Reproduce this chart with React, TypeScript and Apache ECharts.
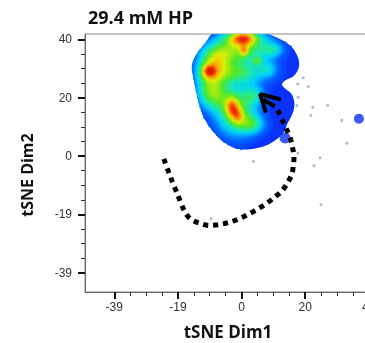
import React, { useEffect, useRef } from 'react';
import * as echarts from 'echarts';

const chartTitle = '29.4 mM HP';
const xName = 'tSNE Dim1';
const yName = 'tSNE Dim2';
const xTickValues = [-40, -20, 0, 20, 40];
const xTickLabels = ['-39', '-19', '0', '20', '40'];
const yTickValues = [-40, -20, 0, 20, 40];
const yTickLabels = ['-39', '-19', '0', '20', '40'];
const minorTickValues = [-35, -30, -25, -15, -10, -5, 5, 10, 15, 25, 30, 35];

// outline of the main density cloud [x, y]
const cloudOutline = [
  [-9.3, 41.6], [8.3, 41.6], [10.9, 40.6], [13.4, 39.2], [15.9, 37.2], [17.5, 34.4],
  [18.1, 32.0], [17.8, 29.6], [16.2, 27.2], [13.7, 25.9], [12.7, 24.5], [13.7, 23.1],
  [15.6, 21.4], [16.5, 19.0], [16.5, 16.3], [15.6, 13.5], [14.3, 10.8], [13.7, 8.7],
  [12.4, 7.0], [10.5, 5.3], [7.7, 3.6], [4.3, 2.6], [0.5, 2.2], [-2.4, 2.9],
  [-5.2, 4.6], [-7.7, 7.0], [-9.9, 9.8], [-11.8, 13.2], [-13.1, 17.0], [-14.0, 20.7],
  [-14.6, 24.1], [-15.3, 27.6], [-15.6, 30.7], [-14.9, 33.4], [-13.4, 36.1], [-11.5, 38.5],
  [-10.2, 40.6],
];

// density hotspots inside the cloud [x, y, spreadX, spreadY, weight]
const hotspots = [
  [0.5, 38, 6, 4.5, 0.6],
  [0.5, 40.5, 3, 1.6, 0.55],
  [0.8, 36.3, 0.9, 1.4, 0.3],
  [-8, 34, 4, 3.5, 0.5],
  [5, 32.8, 1.1, 1.1, 0.25],
  [-1, 28.5, 7, 2.8, 0.4],
  [-10.2, 29.2, 1.4, 1.4, 0.35],
  [-10, 29, 3, 3, 0.35],
  [-9.5, 22, 3.5, 4, 0.55],
  [-3, 17, 1.4, 2.4, 0.38],
  [-1.2, 14, 1.3, 2, 0.28],
  [-2, 15.5, 4.5, 6, 0.6],
  [3.5, 11, 3, 2.5, 0.35],
  [4, 21, 2.5, 2.5, 0.3],
  [10, 36.5, 2.5, 2, 0.28],
  [8.5, 30, 2, 2, 0.2],
];

// small separate clusters [x, y, size]
const satelliteBlobs = [
  [13.7, 6.2, 11],
  [36.9, 12.8, 10],
];

// isolated cells
const specks = [
  [17.7, 24.7], [19.4, 26.8], [21.0, 23.8], [17.8, 20.1], [17.4, 17.3], [22.4, 16.7],
  [27.1, 17.3], [21.8, 13.9], [31.5, 12.2], [33.1, 4.4], [17.7, 1.0], [24.7, -0.6],
  [22.8, -3.3], [3.7, -1.9], [25.0, -16.6], [-9.6, -21.5],
];

// dotted trajectory
const trajectory = [
  [-24.4, -1.0], [-22.3, -7.3], [-20.2, -12.9], [-18.0, -18.7], [-16.2, -21.5], [-13.3, -23.0],
  [-10.1, -23.8], [-7.0, -23.5], [-3.8, -22.7], [-0.7, -21.5], [2.1, -20.0], [5.0, -18.2],
  [7.7, -16.4], [10.2, -14.3], [12.6, -12.1], [14.4, -9.3], [15.8, -6.3], [16.3, -3.3],
  [16.5, -0.2], [16.0, 3.0], [15.3, 6.2], [14.2, 9.0], [13.1, 11.6], [11.9, 14.5], [11.0, 16.3],
];
const arrowHead = [[12.4, 19.35], [5.8, 21.2], [7.7, 14.9]];
const arrowShaft = [[10.5, 16.95], [6.8, 19.35]];

const CELL = 0.4;
const BASE_BLUE = 'rgb(10,50,250)';
const HEAT_STOPS: [number, number[]][] = [
  [0, [10, 50, 250]],
  [0.15, [0, 100, 255]],
  [0.32, [0, 210, 255]],
  [0.45, [30, 235, 170]],
  [0.58, [80, 235, 40]],
  [0.75, [230, 240, 0]],
  [0.9, [255, 150, 0]],
  [1.05, [240, 40, 0]],
  [1.3, [200, 0, 0]],
];

function heatColor(v: number) {
  if (v <= HEAT_STOPS[0][0]) return `rgb(${HEAT_STOPS[0][1].join(',')})`;
  for (let i = 1; i < HEAT_STOPS.length; i++) {
    const [v1, c1] = HEAT_STOPS[i];
    const [v0, c0] = HEAT_STOPS[i - 1];
    if (v <= v1) {
      const t = (v - v0) / (v1 - v0);
      const c = c0.map((a, k) => Math.round(a + (c1[k] - a) * t));
      return `rgb(${c.join(',')})`;
    }
  }
  return `rgb(${HEAT_STOPS[HEAT_STOPS.length - 1][1].join(',')})`;
}

function inside(px: number, py: number, poly: number[][]) {
  let c = false;
  for (let i = 0, j = poly.length - 1; i < poly.length; j = i++) {
    const [xi, yi] = poly[i];
    const [xj, yj] = poly[j];
    if ((yi > py) !== (yj > py) && px < ((xj - xi) * (py - yi)) / (yj - yi) + xi) c = !c;
  }
  return c;
}

function buildHeatCells() {
  const xs = cloudOutline.map((p) => p[0]);
  const ys = cloudOutline.map((p) => p[1]);
  const x0 = Math.min(...xs), x1 = Math.max(...xs);
  const y0 = Math.min(...ys), y1 = Math.max(...ys);
  const cells: number[][] = [];
  for (let x = x0 + CELL / 2; x < x1; x += CELL) {
    for (let y = y0 + CELL / 2; y < y1; y += CELL) {
      if (!inside(x, y, cloudOutline)) continue;
      let h = 0;
      for (const [hx, hy, sx, sy, w] of hotspots) {
        const dx = (x - hx) / sx;
        const dy = (y - hy) / sy;
        h += w * Math.exp(-0.5 * (dx * dx + dy * dy));
      }
      if (h > 0.05) cells.push([x, y, h]);
    }
  }
  return cells;
}

export default function App() {
  const ref = useRef<HTMLDivElement>(null);
  useEffect(() => {
    if (!ref.current) return;
    const chart = echarts.init(ref.current, undefined, { renderer: 'svg' });
    const heatCells = buildHeatCells();
    const tickFont = { fontFamily: 'Liberation Sans', fontSize: 12, color: '#333' };
    const nameFont = { fontFamily: 'Open Sans', fontWeight: 'bold', fontSize: 17, color: '#111' };
    const xMin = -49.2, xMax = 40.7, yMin = -46.6, yMax = 41.8;
    chart.setOption({
      animation: false,
      title: {
        text: chartTitle,
        left: 83,
        top: 3,
        textStyle: { fontFamily: 'Open Sans', fontWeight: 'bold', fontSize: 18, color: '#111' },
      },
      grid: {
        left: 85, top: 34, right: -6, bottom: 51, show: true, borderColor: '#8a8a8a', borderWidth: 1,
        containLabel: false, outerBoundsMode: 'none',
      },
      xAxis: [
        {
          type: 'value', min: xMin, max: xMax, position: 'bottom',
          name: xName, nameLocation: 'middle', nameGap: 31, nameTextStyle: { ...nameFont },
          axisLine: { show: true, onZero: false, lineStyle: { color: '#666', width: 1 } },
          axisTick: { show: true, customValues: xTickValues, length: 7, lineStyle: { color: '#111', width: 2 } },
          axisLabel: {
            customValues: xTickValues, margin: 9, ...tickFont,
            formatter: (v: number) => { const i = xTickValues.indexOf(v); return i >= 0 ? xTickLabels[i] : ''; },
          },
          splitLine: { show: false },
        },
        {
          type: 'value', min: xMin, max: xMax, position: 'bottom',
          axisLine: { show: false, onZero: false },
          axisTick: { show: true, customValues: minorTickValues, length: 4, lineStyle: { color: '#333', width: 1 } },
          axisLabel: { show: false },
          splitLine: { show: false },
        },
      ],
      yAxis: [
        {
          type: 'value', min: yMin, max: yMax, position: 'left',
          name: `${yName}{gap|}`, nameLocation: 'middle', nameGap: 50,
          nameTextStyle: { ...nameFont, fontSize: 16, rich: { gap: { width: 24 } } },
          axisLine: { show: true, onZero: false, lineStyle: { color: '#666', width: 1 } },
          axisTick: { show: true, customValues: yTickValues, length: 7, lineStyle: { color: '#111', width: 2 } },
          axisLabel: {
            customValues: yTickValues, margin: 13, ...tickFont,
            formatter: (v: number) => { const i = yTickValues.indexOf(v); return i >= 0 ? yTickLabels[i] : ''; },
          },
          splitLine: { show: false },
        },
        {
          type: 'value', min: yMin, max: yMax, position: 'left',
          axisLine: { show: false, onZero: false },
          axisTick: { show: true, customValues: minorTickValues, length: 4, lineStyle: { color: '#333', width: 1 } },
          axisLabel: { show: false },
          splitLine: { show: false },
        },
      ],
      series: [
        {
          type: 'custom',
          clip: true,
          z: 1,
          data: [[0, 0]],
          renderItem: (_p: any, api: any) => ({
            type: 'polygon',
            shape: { points: cloudOutline.map((p) => api.coord(p)), smooth: 0.35 },
            style: { fill: BASE_BLUE },
          }),
        },
        {
          type: 'custom',
          clip: true,
          z: 2,
          data: heatCells,
          renderItem: (_p: any, api: any) => {
            const c = api.coord([api.value(0) - CELL / 2, api.value(1) + CELL / 2]);
            const s = api.size([CELL, CELL]);
            return {
              type: 'rect',
              shape: { x: c[0], y: c[1], width: s[0] + 0.5, height: s[1] + 0.5 },
              style: { fill: heatColor(api.value(2)) },
            };
          },
        },
        {
          type: 'scatter',
          z: 2,
          data: satelliteBlobs.map((b) => [b[0], b[1]]),
          symbolSize: (_v: any, p: any) => satelliteBlobs[p.dataIndex][2],
          itemStyle: { color: BASE_BLUE },
        },
        {
          type: 'scatter',
          z: 3,
          data: specks,
          symbolSize: 3,
          itemStyle: { color: '#9fb6c8', opacity: 0.9 },
        },
        {
          type: 'line',
          z: 4,
          data: trajectory,
          smooth: 0.3,
          showSymbol: false,
          lineStyle: { color: '#000', width: 5, type: [5, 5], cap: 'butt' },
        },
        {
          type: 'line',
          z: 4,
          data: arrowHead,
          showSymbol: false,
          lineStyle: { color: '#000', width: 4 },
        },
        {
          type: 'line',
          z: 4,
          data: arrowShaft,
          showSymbol: false,
          lineStyle: { color: '#000', width: 4 },
        },
      ],
    });
    return () => chart.dispose();
  }, []);
  return <div ref={ref} style={{ position: 'fixed', left: 0, top: 0, width: 365, height: 343 }} />;
}
